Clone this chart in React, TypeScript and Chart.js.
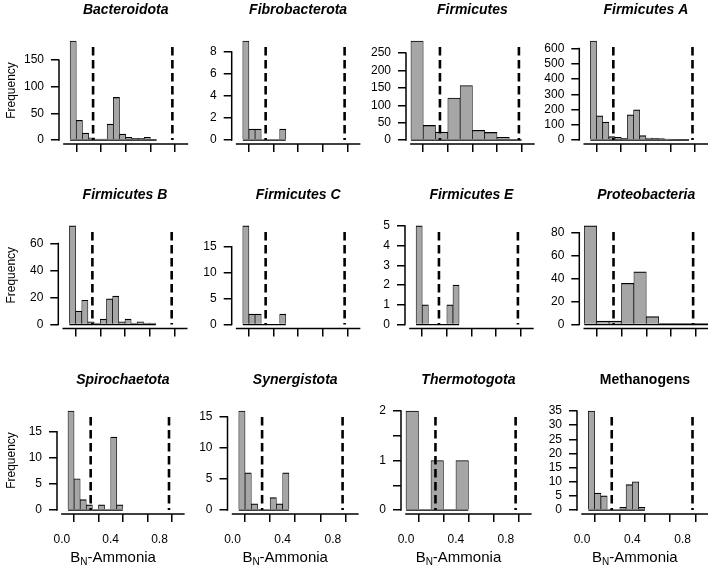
import React, { useEffect, useRef } from 'react';
import { Chart, registerables } from 'chart.js';
Chart.register(...registerables);

const FONT = "'Liberation Sans', Arial, Helvetica, sans-serif";

// bin left edges
const edges05 = [0.05, 0.1, 0.15, 0.2, 0.25, 0.3, 0.35, 0.4, 0.45, 0.5, 0.55, 0.6, 0.65, 0.7, 0.75, 0.8];
const edges10 = [0.0, 0.1, 0.2, 0.3, 0.4, 0.5, 0.6, 0.7, 0.8, 0.9, 1.0];

// frequencies per bin
const bacteroidotaCounts = [186, 37, 13, 4, 2, 2, 30, 80, 11, 5, 3, 3, 5, 1];
const fibrobacterotaCounts = [9, 1, 1, 0, 0, 0, 1];
const firmicutesCounts = [285, 42, 23, 121, 157, 28, 22, 8, 2];
const firmicutesACounts = [650, 159, 117, 22, 18, 11, 165, 198, 29, 13, 11, 9, 7, 4, 2, 2];
const firmicutesBCounts = [73, 10, 18, 2, 1, 4, 19, 21, 2, 4, 1, 2, 1, 1];
const firmicutesCCounts = [19, 2, 2, 0, 0, 0, 2];
const firmicutesECounts = [5, 1, 0, 0, 0, 1, 2];
const proteobacteriaCounts = [86, 3, 3, 36, 46, 7, 1, 1, 1, 1, 1];
const spirochaetotaCounts = [19, 6, 2, 1, 0, 1, 0, 14, 1];
const synergistotaCounts = [16, 6, 1, 0, 0, 2, 1, 6];
const thermotogotaCounts = [2, 0, 1, 0, 1];
const methanogensCounts = [35, 6, 5, 0, 0, 1, 9, 10, 1];

// axes
const xTickValues = [0, 0.2, 0.4, 0.6, 0.8, 1.0];
const xTickLabels = ['0.0', '', '0.4', '', '0.8', ''];
const thresholds = [0.236, 0.878];

const yTicksBacteroidota = [0, 50, 100, 150];
const yTicksFibrobacterota = [0, 2, 4, 6, 8];
const yTicksFirmicutes = [0, 50, 100, 150, 200, 250];
const yTicksFirmicutesA = [0, 100, 200, 300, 400, 500, 600];
const yTicksFirmicutesB = [0, 20, 40, 60];
const yTicksFirmicutesC = [0, 5, 10, 15];
const yTicksFirmicutesE = [0, 1, 2, 3, 4, 5];
const yTicksProteobacteria = [0, 20, 40, 60, 80];
const yTicksSpirochaetota = [0, 5, 10, 15];
const yTicksSynergistota = [0, 5, 10, 15];
const yTicksThermotogota = [0, 0.5, 1, 1.5, 2];
const yLabelsThermotogota = ['0', '', '1', '', '2'];
const yTicksMethanogens = [0, 5, 10, 15, 20, 25, 30, 35];

// layout (page px)
const rowBox = [
  { top: 37, bottom: 144 },
  { top: 222, bottom: 328.5 },
  { top: 407, bottom: 514 },
];

type P = {
  title: string; italic: boolean; counts: number[]; edges: number[]; bin: number;
  yTicks: number[]; yLabels?: string[]; row: number; col: number; ax: number; ux: number;
};

const panels: P[] = [
  { title: 'Bacteroidota', italic: true, counts: bacteroidotaCounts, edges: edges05, bin: 0.05, yTicks: yTicksBacteroidota, row: 0, col: 0, ax: 59, ux: 123.5 },
  { title: 'Fibrobacterota', italic: true, counts: fibrobacterotaCounts, edges: edges05, bin: 0.05, yTicks: yTicksFibrobacterota, row: 0, col: 1, ax: 231.7, ux: 123 },
  { title: 'Firmicutes', italic: true, counts: firmicutesCounts, edges: edges10, bin: 0.1, yTicks: yTicksFirmicutes, row: 0, col: 2, ax: 406, ux: 123 },
  { title: 'Firmicutes A', italic: true, counts: firmicutesACounts, edges: edges05, bin: 0.05, yTicks: yTicksFirmicutesA, row: 0, col: 3, ax: 579.3, ux: 123.3 },
  { title: 'Firmicutes B', italic: true, counts: firmicutesBCounts, edges: edges05, bin: 0.05, yTicks: yTicksFirmicutesB, row: 1, col: 0, ax: 58.3, ux: 123.5 },
  { title: 'Firmicutes C', italic: true, counts: firmicutesCCounts, edges: edges05, bin: 0.05, yTicks: yTicksFirmicutesC, row: 1, col: 1, ax: 231.7, ux: 123 },
  { title: 'Firmicutes E', italic: true, counts: firmicutesECounts, edges: edges05, bin: 0.05, yTicks: yTicksFirmicutesE, row: 1, col: 2, ax: 405, ux: 123 },
  { title: 'Proteobacteria', italic: true, counts: proteobacteriaCounts, edges: edges10, bin: 0.1, yTicks: yTicksProteobacteria, row: 1, col: 3, ax: 579.3, ux: 124 },
  { title: 'Spirochaetota', italic: true, counts: spirochaetotaCounts, edges: edges05, bin: 0.05, yTicks: yTicksSpirochaetota, row: 2, col: 0, ax: 57, ux: 124 },
  { title: 'Synergistota', italic: true, counts: synergistotaCounts, edges: edges05, bin: 0.05, yTicks: yTicksSynergistota, row: 2, col: 1, ax: 227.5, ux: 127 },
  { title: 'Thermotogota', italic: true, counts: thermotogotaCounts, edges: edges10, bin: 0.1, yTicks: yTicksThermotogota, yLabels: yLabelsThermotogota, row: 2, col: 2, ax: 401, ux: 126 },
  { title: 'Methanogens', italic: false, counts: methanogensCounts, edges: edges05, bin: 0.05, yTicks: yTicksMethanogens, row: 2, col: 3, ax: 577, ux: 127 },
];

function makeDecor(p: P, canvasLeft: number) {
  return {
    id: 'decor' + p.title,
    afterDatasetsDraw(chart: any) {
      const { ctx, chartArea } = chart;
      const x = chart.scales.x;
      const y = chart.scales.y;
      ctx.save();
      ctx.strokeStyle = '#000';
      ctx.fillStyle = '#000';
      // zero line under the bins
      const y0 = y.getPixelForValue(0);
      const xs = x.getPixelForValue(p.edges[0]);
      const xe = Math.min(x.getPixelForValue(p.edges[p.counts.length - 1] + p.bin), chartArea.right);
      ctx.lineWidth = 1.2;
      ctx.beginPath();
      ctx.moveTo(xs, y0);
      ctx.lineTo(xe, y0);
      ctx.stroke();
      // axis lines (first to last tick)
      ctx.lineWidth = 1.5;
      ctx.beginPath();
      ctx.moveTo(chartArea.left, y.getPixelForValue(p.yTicks[0]) + 0.75);
      ctx.lineTo(chartArea.left, y.getPixelForValue(p.yTicks[p.yTicks.length - 1]) - 0.75);
      ctx.moveTo(x.getPixelForValue(xTickValues[0]) - 0.75, chartArea.bottom);
      ctx.lineTo(x.getPixelForValue(xTickValues[xTickValues.length - 1]) + 0.75, chartArea.bottom);
      ctx.stroke();
      // threshold lines
      ctx.lineWidth = 2.6;
      ctx.setLineDash([8.5, 4.5]);
      for (const t of thresholds) {
        const px = x.getPixelForValue(t);
        ctx.beginPath();
        ctx.moveTo(px, chartArea.top + 10);
        ctx.lineTo(px, y0);
        ctx.stroke();
      }
      ctx.setLineDash([]);
      // title
      ctx.font = `${p.italic ? 'italic ' : ''}bold 14px ${FONT}`;
      ctx.textAlign = 'center';
      ctx.textBaseline = 'middle';
      ctx.fillText(p.title, (chartArea.left + chartArea.right) / 2, chartArea.top - 27);
      // y title
      if (p.col === 0) {
        ctx.save();
        ctx.translate(12 - canvasLeft, (chartArea.top + chartArea.bottom) / 2);
        ctx.rotate(-Math.PI / 2);
        ctx.font = `12px ${FONT}`;
        ctx.fillText('Frequency', 0, 0);
        ctx.restore();
      }
      // x title with subscript
      if (p.row === 2) {
        const cx = x.getPixelForValue(0.42);
        const base = chartArea.bottom + 48;
        ctx.textAlign = 'left';
        ctx.textBaseline = 'alphabetic';
        ctx.font = `15px ${FONT}`;
        const wB = ctx.measureText('B').width;
        const wR = ctx.measureText('-Ammonia').width;
        ctx.font = `10px ${FONT}`;
        const wN = ctx.measureText('N').width;
        const start = cx - (wB + wN + wR) / 2;
        ctx.font = `15px ${FONT}`;
        ctx.fillText('B', start, base);
        ctx.fillText('-Ammonia', start + wB + wN, base);
        ctx.font = `10px ${FONT}`;
        ctx.fillText('N', start + wB, base + 3);
      }
      ctx.restore();
    },
  };
}

function Panel({ p }: { p: P }) {
  const ref = useRef<HTMLCanvasElement>(null);
  const row = rowBox[p.row];
  const canvasLeft = p.col === 0 ? 0 : Math.round(p.ax - 50);
  const LM = p.ax - canvasLeft;
  const canvasTop = Math.round(row.top - 36);
  const TM = row.top - canvasTop;
  const plotW = 1.08 * p.ux;
  const plotH = row.bottom - row.top;
  const W = Math.ceil(LM + plotW + 3);
  const H = Math.ceil(TM + plotH + 52);
  const RP = W - LM - plotW;
  const BM = H - TM - plotH;

  useEffect(() => {
    const ymax = Math.max(...p.counts);
    const chart = new Chart(ref.current as HTMLCanvasElement, {
      type: 'bar',
      data: {
        datasets: [
          {
            data: p.counts.map((c, i) => ({ x: p.edges[i] + p.bin / 2, y: c })),
            backgroundColor: '#a6a6a6',
            borderColor: '#000',
            borderWidth: { top: 1.2, left: 0.7, right: 0.7, bottom: 0 },
            borderSkipped: false,
            barPercentage: 1,
            categoryPercentage: 1,
          } as any,
        ],
      },
      options: {
        responsive: false,
        animation: false,
        devicePixelRatio: 1,
        events: [],
        layout: { padding: { left: 0, top: TM, right: RP, bottom: 0 } },
        plugins: { legend: { display: false }, tooltip: { enabled: false }, title: { display: false } },
        scales: {
          x: {
            type: 'linear',
            min: -0.04,
            max: 1.04,
            offset: false,
            afterBuildTicks: (s: any) => { s.ticks = xTickValues.map((v) => ({ value: v })); },
            afterFit: (s: any) => { s.height = BM; },
            grid: { display: true, drawOnChartArea: false, drawTicks: true, tickLength: 8, color: '#000', lineWidth: 1.5 },
            border: { display: false },
            ticks: {
              display: p.row === 2,
              autoSkip: false,
              maxRotation: 0,
              padding: 10,
              color: '#000',
              font: { size: 12, family: FONT },
              callback: (_v: any, i: number) => xTickLabels[i],
            },
          },
          y: {
            type: 'linear',
            min: -0.04 * ymax,
            max: 1.04 * ymax,
            afterBuildTicks: (s: any) => { s.ticks = p.yTicks.map((v) => ({ value: v })); },
            afterFit: (s: any) => { s.width = LM; },
            grid: { display: true, drawOnChartArea: false, drawTicks: true, tickLength: 8, color: '#000', lineWidth: 1.5 },
            border: { display: false },
            ticks: {
              autoSkip: false,
              padding: 7,
              color: '#000',
              font: { size: 12, family: FONT },
              callback: (_v: any, i: number) => (p.yLabels ? p.yLabels[i] : String(p.yTicks[i])),
            },
          },
        },
      } as any,
      plugins: [makeDecor(p, canvasLeft)],
    });
    return () => chart.destroy();
  }, []);

  return (
    <canvas
      ref={ref}
      width={W}
      height={H}
      style={{ position: 'absolute', left: canvasLeft, top: canvasTop, width: W, height: H }}
    />
  );
}

export default function App() {
  return (
    <div style={{ position: 'absolute', left: 0, top: 0, width: 708, height: 566, overflow: 'hidden', background: '#fff' }}>
      {panels.map((p) => (
        <Panel key={p.title} p={p} />
      ))}
    </div>
  );
}
